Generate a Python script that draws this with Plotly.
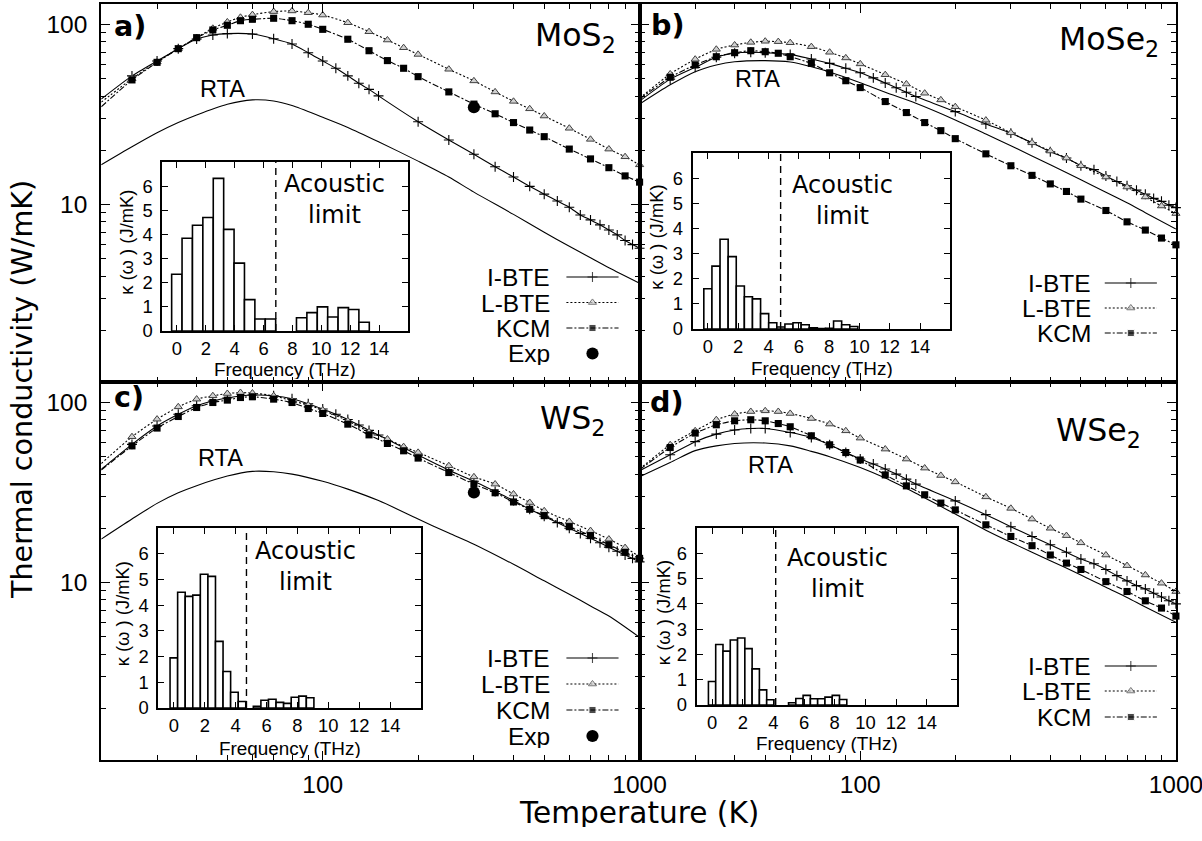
import math
import plotly.graph_objects as go

# reference frame (pixels) used for every position below
W, H = 1202, 841
# figure size actually requested (the page is shown scaled down to 1202x841)
FIG_W, FIG_H = 1232, 851
FS = 1.02  # font / marker size compensation

# ---------------- data ----------------
T_main = [20, 25, 30, 35, 40, 45, 50, 55, 60, 70, 80, 90, 100, 120, 140, 160, 180, 200,
          250, 300, 350, 400, 450, 500, 600, 700, 800, 900, 1000]
T_ibte = [20, 25, 30, 35, 40, 45, 50, 60, 70, 80, 90, 100, 110, 120, 130, 140, 150, 200,
          250, 300, 350, 400, 450, 500, 550, 600, 650, 700, 750, 800, 850, 900, 950, 1000]
T_rta = [20, 25, 30, 35, 40, 50, 60, 70, 80, 100, 120, 150, 200, 250, 300, 400, 500, 600,
         700, 800, 1000]

mos2_ibte = [38.5, 51.8, 62.7, 73.4, 83.0, 87.5, 89.0, 88.5, 83.4, 77.9, 69.7, 62.7, 57.1, 51.8,
             47.1, 43.6, 40.1, 28.8, 22.8, 19.0, 16.2, 14.2, 12.6, 11.4, 10.45, 9.65, 8.74, 8.2,
             7.7, 7.2, 6.77, 6.3, 5.98, 5.7]
mos2_lbte = [37.0, 50.0, 62.0, 73.4, 84.5, 95.2, 103.3, 109.6, 113.4, 118.0, 119.0, 116.3, 112.9,
             102.3, 91.2, 82.0, 74.3, 68.2, 56.4, 48.6, 42.2, 37.4, 34.0, 31.0, 26.5, 23.0, 20.3,
             18.4, 16.6]
mos2_kcm = [34.9, 49.2, 61.6, 73.4, 84.5, 93.2, 99.0, 105.0, 106.9, 108.3, 105.0, 100.3, 94.0,
            82.8, 71.5, 63.0, 57.1, 51.3, 42.2, 36.1, 31.9, 28.5, 25.9, 23.8, 20.3, 17.9, 16.0,
            14.4, 13.3]
mos2_rta = [16.6, 20.9, 25.0, 28.5, 31.4, 36.0, 38.1, 37.6, 35.5, 30.5, 26.8, 22.3, 17.4, 14.2,
            11.7, 8.8, 7.0, 5.85, 5.05, 4.45, 3.65]

mose2_ibte = [37.5, 49.7, 57.8, 65.7, 69.2, 70.1, 69.7, 68.2, 64.3, 60.8, 57.1, 53.9, 50.5, 47.3,
              44.5, 42.0, 39.8, 32.8, 28.0, 24.9, 22.0, 19.6, 18.1, 16.4, 15.6, 14.4, 13.4, 12.7,
              12.0, 11.4, 10.8, 10.4, 9.9, 9.6]
mose2_lbte = [38.9, 53.1, 64.1, 72.8, 76.9, 79.6, 80.7, 80.3, 79.2, 75.3, 70.1, 65.2, 60.4, 52.6,
              46.7, 41.5, 38.1, 34.9, 29.4, 25.0, 22.0, 19.8, 18.1, 16.4, 14.2, 12.5, 11.0, 9.8,
              8.9]
mose2_kcm = [38.5, 50.9, 59.6, 66.2, 69.7, 71.5, 70.6, 69.2, 66.2, 60.8, 53.9, 48.7, 44.6, 37.3,
             32.4, 28.5, 25.7, 23.2, 19.1, 16.4, 14.5, 13.0, 11.8, 10.7, 9.25, 8.0, 7.2, 6.5, 5.96]
mose2_rta = [36.1, 46.2, 54.7, 59.6, 62.1, 63.0, 61.9, 58.3, 54.5, 47.5, 42.0, 36.5, 29.5, 24.6,
             21.2, 16.6, 13.7, 11.7, 10.2, 9.0, 7.3]

ws2_ibte = [42.5, 58.5, 74.0, 86.0, 96.0, 102.0, 106.0, 110.0, 109.0, 105.0, 98.5, 92.0, 86.0,
            80.5, 75.0, 70.0, 66.0, 51.0, 42.0, 36.5, 32.0, 28.5, 25.5, 23.3, 21.5, 20.0, 18.7,
            17.6, 16.6, 15.7, 14.9, 14.2, 13.6, 13.0]
ws2_lbte = [45.8, 64.5, 80.8, 94.6, 104.4, 109.0, 112.2, 113.6, 112.8, 109.0, 102.2, 96.7, 90.7,
            79.1, 68.7, 62.6, 56.8, 52.8, 44.5, 38.6, 35.2, 31.0, 27.8, 25.0, 21.8, 19.4, 17.4,
            15.6, 13.9]
ws2_kcm = [42.1, 57.4, 72.1, 83.6, 93.8, 100.0, 103.1, 106.6, 107.6, 104.4, 100.0, 92.6, 86.9,
           75.8, 66.1, 59.2, 53.9, 49.1, 40.8, 35.2, 31.5, 28.0, 25.5, 23.5, 20.4, 18.2, 16.2,
           14.7, 13.6]
ws2_rta = [17.4, 22.5, 27.5, 31.5, 34.5, 39.0, 41.4, 41.2, 40.0, 36.5, 33.0, 28.5, 22.5, 18.8,
           16.3, 12.6, 10.2, 8.6, 7.4, 6.5, 4.95]

wse2_ibte = [41.7, 51.2, 60.6, 66.7, 70.3, 71.7, 71.7, 68.1, 63.9, 58.2, 52.7, 48.5, 45.5, 42.7,
             40.0, 37.5, 35.2, 28.4, 23.8, 20.4, 18.0, 16.2, 14.7, 13.5, 12.7, 11.8, 10.9, 10.2,
             9.6, 9.2, 8.7, 8.3, 7.9, 7.6]
wse2_lbte = [42.7, 58.2, 69.6, 80.2, 86.2, 89.1, 89.9, 89.1, 86.9, 81.5, 75.9, 69.6, 63.4, 55.1,
             48.5, 43.2, 39.3, 36.2, 29.9, 25.8, 22.5, 20.0, 18.2, 16.6, 14.2, 12.4, 11.0, 9.9,
             8.9]
wse2_kcm = [42.3, 56.2, 67.6, 75.2, 79.1, 80.2, 79.1, 76.4, 73.3, 65.3, 58.2, 52.7, 47.9, 39.6,
            34.4, 30.7, 27.6, 25.3, 20.9, 18.0, 16.0, 14.2, 12.8, 11.8, 10.1, 8.9, 7.9, 7.2, 6.5]
wse2_rta = [38.6, 46.4, 54.0, 57.4, 59.2, 59.5, 57.4, 53.5, 50.0, 43.5, 38.0, 31.3, 24.0, 19.5,
            16.7, 13.2, 11.0, 9.4, 8.25, 7.3, 6.0]

exp_T = [300]
mos2_exp = [34.7]
ws2_exp = [31.6]

# inset histograms: bin centres (THz) and kappa(omega) (J/mK)
mos2_freq = [0.0, 0.72, 1.44, 2.16, 2.88, 3.60, 4.32, 5.04, 5.76, 6.48,
             8.64, 9.36, 10.08, 10.80, 11.52, 12.24, 12.96]
mos2_hist = [2.35, 3.84, 4.38, 4.70, 6.32, 4.21, 2.81, 1.30, 0.50, 0.50,
             0.55, 0.76, 1.00, 0.58, 0.97, 0.89, 0.36]
mose2_freq = [0.0, 0.535, 1.07, 1.605, 2.14, 2.675, 3.21, 3.745, 4.28, 4.815, 5.35, 5.885,
              6.42, 6.955, 7.49, 8.025, 8.56, 9.095, 9.63]
mose2_hist = [1.6, 2.5, 3.57, 2.88, 1.71, 1.28, 1.2, 0.61, 0.25, 0.08, 0.2, 0.25,
              0.17, 0.05, 0.02, 0.03, 0.32, 0.17, 0.10]
ws2_freq = [0.0, 0.49, 0.98, 1.47, 1.96, 2.45, 2.94, 3.43, 3.92, 4.41,
            5.39, 5.88, 6.37, 6.86, 7.35, 7.84, 8.33, 8.82]
ws2_hist = [1.95, 4.5, 4.34, 4.39, 5.2, 5.12, 2.59, 1.42, 0.61, 0.25,
            0.07, 0.30, 0.34, 0.22, 0.18, 0.42, 0.46, 0.40]
wse2_freq = [0.0, 0.475, 0.95, 1.425, 1.9, 2.375, 2.85, 3.325, 3.8,
             5.225, 5.7, 6.175, 6.65, 7.125, 7.6, 8.075, 8.55]
wse2_hist = [0.93, 2.39, 2.13, 2.57, 2.65, 2.23, 1.43, 0.60, 0.21,
             0.09, 0.26, 0.38, 0.25, 0.25, 0.31, 0.38, 0.22]
bin_width = [0.72, 0.535, 0.49, 0.475]
acoustic_limit = [6.85, 4.8, 4.7, 4.15]

materials = ["MoS<sub>2</sub>", "MoSe<sub>2</sub>", "WS<sub>2</sub>", "WSe<sub>2</sub>"]
panel_letters = ["a)", "b)", "c)", "d)"]
legend_names = ["I-BTE", "L-BTE", "KCM", "Exp"]

# ---------------- layout geometry (reference pixels) ----------------
panels_px = [(101, 638, 4, 382), (638, 1173, 4, 382), (101, 638, 382, 760), (638, 1173, 382, 760)]
insets_px = [(162, 407, 162, 331), (691, 948, 153, 329), (158, 420, 528, 708), (695, 955, 528, 705)]


def xd(x0, x1):
    return [x0 / W, x1 / W]


def yd(y0, y1):
    return [1 - y1 / H, 1 - y0 / H]


def px(x):
    return x / W


def py(y):
    return 1 - y / H


def f(s):
    return round(s * FS, 1)


TICKF = "Liberation Sans"
SANS = "DejaVu Sans"

fig = go.Figure()
layout = dict(width=FIG_W, height=FIG_H, margin=dict(l=0, r=0, t=0, b=0), autosize=False,
              paper_bgcolor="white", plot_bgcolor="rgba(0,0,0,0)",
              showlegend=False, barmode="overlay")

xmin_minor = [20, 30, 40, 50, 60, 70, 80, 90, 200, 300, 400, 500, 600, 700, 800, 900]
ymin_minor = [2, 3, 4, 5, 6, 7, 8, 9, 20, 30, 40, 50, 60, 70, 80, 90]

data_sets = [
    (mos2_ibte, mos2_lbte, mos2_kcm, mos2_rta, mos2_exp),
    (mose2_ibte, mose2_lbte, mose2_kcm, mose2_rta, None),
    (ws2_ibte, ws2_lbte, ws2_kcm, ws2_rta, ws2_exp),
    (wse2_ibte, wse2_lbte, wse2_kcm, wse2_rta, None),
]
hists = [(mos2_freq, mos2_hist), (mose2_freq, mose2_hist), (ws2_freq, ws2_hist), (wse2_freq, wse2_hist)]

LBTE_DASH = "2px,2px"
KCM_DASH = "6px,2px,2px,2px"
IB_MK = dict(symbol="cross-thin", size=f(7), line=dict(color="black", width=1.1))
LB_MK = dict(symbol="triangle-up", size=f(7), color="#d0d0d0", line=dict(color="#404040", width=1))
KC_MK = dict(symbol="square", size=f(7), color="black")

for i in range(4):
    n = i + 1
    xk = "xaxis" if n == 1 else f"xaxis{n}"
    yk = "yaxis" if n == 1 else f"yaxis{n}"
    xr = "x" if n == 1 else f"x{n}"
    yr = "y" if n == 1 else f"y{n}"
    x0, x1, y0, y1 = panels_px[i]
    layout[xk] = dict(type="log", domain=xd(x0, x1), range=[math.log10(20), 3], anchor=yr,
                      showline=True, linecolor="black", linewidth=2, mirror="ticks",
                      ticks="inside", ticklen=9, tickwidth=1.3, tickcolor="black",
                      tickmode="array", tickvals=[100, 1000], ticktext=["100", "1000"],
                      showticklabels=(i >= 2), ticklabelstandoff=2,
                      tickfont=dict(family=TICKF, size=f(24), color="black"),
                      minor=dict(ticks="inside", ticklen=5, tickwidth=1.1, tickcolor="black",
                                 tickmode="array", tickvals=xmin_minor),
                      showgrid=False, zeroline=False)
    layout[yk] = dict(type="log", domain=yd(y0, y1), range=[math.log10(1.03), math.log10(130)],
                      anchor=xr, showline=True, linecolor="black", linewidth=2, mirror="ticks",
                      ticks="inside", ticklen=9, tickwidth=1.3, tickcolor="black",
                      tickmode="array", tickvals=[10, 100], ticktext=["10", "100"],
                      showticklabels=(i % 2 == 0), ticklabelstandoff=7,
                      tickfont=dict(family=TICKF, size=f(24), color="black"),
                      minor=dict(ticks="inside", ticklen=5, tickwidth=1.1, tickcolor="black",
                                 tickmode="array", tickvals=ymin_minor),
                      showgrid=False, zeroline=False)

    ibte, lbte, kcm, rta, exp = data_sets[i]
    fig.add_trace(go.Scatter(x=T_rta, y=rta, mode="lines", xaxis=xr, yaxis=yr,
                             line=dict(color="black", width=1.1, shape="spline", smoothing=0.8)))
    fig.add_trace(go.Scatter(x=T_ibte, y=ibte, mode="lines+markers", xaxis=xr, yaxis=yr,
                             cliponaxis=False,
                             line=dict(color="black", width=1.1, shape="spline", smoothing=0.6),
                             marker=IB_MK))
    fig.add_trace(go.Scatter(x=T_main, y=lbte, mode="lines+markers", xaxis=xr, yaxis=yr,
                             cliponaxis=False,
                             line=dict(color="black", width=1.1, dash=LBTE_DASH, shape="spline",
                                       smoothing=0.6),
                             marker=LB_MK))
    fig.add_trace(go.Scatter(x=T_main, y=kcm, mode="lines+markers", xaxis=xr, yaxis=yr,
                             cliponaxis=False,
                             line=dict(color="black", width=1.1, dash=KCM_DASH, shape="spline",
                                       smoothing=0.6),
                             marker=KC_MK))
    if exp is not None:
        fig.add_trace(go.Scatter(x=exp_T, y=exp, mode="markers", xaxis=xr, yaxis=yr,
                                 marker=dict(symbol="circle", size=f(12), color="black")))

    # inset
    m = n + 4
    ixk, iyk, ixr, iyr = f"xaxis{m}", f"yaxis{m}", f"x{m}", f"y{m}"
    a0, a1, b0, b1 = insets_px[i]
    layout[ixk] = dict(domain=xd(a0, a1), range=[-1, 16], anchor=iyr,
                       showline=True, linecolor="black", linewidth=2, mirror="ticks",
                       ticks="inside", ticklen=6, tickwidth=1.2, tickcolor="black",
                       tickmode="array", tickvals=[0, 2, 4, 6, 8, 10, 12, 14],
                       ticklabelstandoff=0,
                       tickfont=dict(family=TICKF, size=f(18), color="black"),
                       showgrid=False, zeroline=False)
    layout[iyk] = dict(domain=yd(b0, b1), range=[0, 7], anchor=ixr,
                       showline=True, linecolor="black", linewidth=2, mirror="ticks",
                       ticks="inside", ticklen=6, tickwidth=1.2, tickcolor="black",
                       tickmode="array", tickvals=[0, 1, 2, 3, 4, 5, 6],
                       ticklabelstandoff=4,
                       tickfont=dict(family=TICKF, size=f(18), color="black"),
                       showgrid=False, zeroline=False)
    fq, hv = hists[i]
    fig.add_trace(go.Bar(x=fq, y=hv, width=bin_width[i], xaxis=ixr, yaxis=iyr,
                         marker=dict(color="white", line=dict(color="black", width=1.6))))

layout["xaxis9"] = dict(domain=[0, 1], range=[0, W], visible=False, anchor="y9", fixedrange=True)
layout["yaxis9"] = dict(domain=[0, 1], range=[H, 0], visible=False, anchor="x9", fixedrange=True)

shapes = []
annotations = []
for i in range(4):
    m = i + 5
    shapes.append(dict(type="line", xref=f"x{m}", yref=f"y{m}", x0=acoustic_limit[i],
                       x1=acoustic_limit[i], y0=0, y1=7,
                       line=dict(color="black", width=1.4, dash="7px,5px")))

# inset axis titles (reference pixels)
inset_xtitle_y = [369, 368, 748, 743]
inset_ytitle_x = [126, 655, 122, 662]
for i in range(4):
    a0, a1, b0, b1 = insets_px[i]
    annotations.append(dict(xref="paper", yref="paper", x=px((a0 + a1) / 2), y=py(inset_xtitle_y[i]),
                            text="Frequency (THz)", showarrow=False, xanchor="center",
                            yanchor="middle", height=20,
                            font=dict(family=TICKF, size=f(18.5), color="black")))
    annotations.append(dict(xref="paper", yref="paper", x=px(inset_ytitle_x[i]),
                            y=py((b0 + b1) / 2 - 4), textangle=-90,
                            text="κ (ω ) (J/mK)", showarrow=False, xanchor="center",
                            yanchor="middle", font=dict(family=TICKF, size=f(18), color="black")))

acoustic_pos = [(10.9, 5.45), (8.9, 5.1), (8.5, 5.5), (8.2, 5.2)]
for i in range(4):
    m = i + 5
    annotations.append(dict(xref=f"x{m}", yref=f"y{m}", x=acoustic_pos[i][0], y=acoustic_pos[i][1],
                            text="Acoustic<br>limit", showarrow=False, align="center",
                            font=dict(family=SANS, size=f(23.5), color="black")))

letter_pos = [(130, 26), (666, 25), (129, 397), (665, 402)]
mat_pos = [(574, 38), (1106, 41), (571, 420), (1096, 432)]
rta_pos = [(222, 89), (756, 79), (220, 458), (769, 465)]
for i in range(4):
    annotations.append(dict(xref="paper", yref="paper", x=px(letter_pos[i][0]), y=py(letter_pos[i][1]),
                            text=f"<b>{panel_letters[i]}</b>", showarrow=False,
                            xanchor="center", yanchor="middle",
                            font=dict(family=SANS, size=f(28), color="black")))
    annotations.append(dict(xref="paper", yref="paper", x=px(mat_pos[i][0]), y=py(mat_pos[i][1]),
                            text=materials[i], showarrow=False, xanchor="center", yanchor="middle",
                            font=dict(family=SANS, size=f(31), color="black")))
    annotations.append(dict(xref="paper", yref="paper", x=px(rta_pos[i][0]), y=py(rta_pos[i][1]),
                            text="RTA", showarrow=False, xanchor="center", yanchor="middle",
                            font=dict(family=TICKF, size=f(23), color="black")))

legend_rows = [[277, 302.5, 328, 353.5], [283, 308, 333], [658, 684, 710, 736], [666, 691, 717]]
legend_text_x = [551, 1090, 551, 1090]
legend_line_x = [(565, 617), (1102, 1154), (565, 617), (1102, 1154)]
for i in range(4):
    rows = legend_rows[i]
    lx0, lx1 = legend_line_x[i]
    lm = (lx0 + lx1) / 2
    for k, yy in enumerate(rows):
        annotations.append(dict(xref="paper", yref="paper", x=px(legend_text_x[i]), y=py(yy),
                                text=legend_names[k], showarrow=False, xanchor="right",
                                yanchor="middle", height=24,
                                font=dict(family=TICKF, size=f(24), color="black")))
    fig.add_trace(go.Scatter(x=[lx0, lm, lx1], y=[rows[0]] * 3, xaxis="x9", yaxis="y9",
                             mode="lines+markers", cliponaxis=False,
                             line=dict(color="black", width=1.1),
                             marker=dict(IB_MK, size=[0, f(7), 0])))
    fig.add_trace(go.Scatter(x=[lx0, lm, lx1], y=[rows[1]] * 3, xaxis="x9", yaxis="y9",
                             mode="lines+markers", cliponaxis=False,
                             line=dict(color="black", width=1.1, dash=LBTE_DASH),
                             marker=dict(LB_MK, size=[0, f(7), 0])))
    fig.add_trace(go.Scatter(x=[lx0, lm, lx1], y=[rows[2]] * 3, xaxis="x9", yaxis="y9",
                             mode="lines+markers", cliponaxis=False,
                             line=dict(color="black", width=1.1, dash=KCM_DASH),
                             marker=dict(KC_MK, size=[0, f(7), 0])))
    if len(rows) > 3:
        fig.add_trace(go.Scatter(x=[lm], y=[rows[3]], xaxis="x9", yaxis="y9", mode="markers",
                                 cliponaxis=False,
                                 marker=dict(symbol="circle", size=f(12), color="black")))

annotations.append(dict(xref="paper", yref="paper", x=px(22), y=py(390), textangle=-90,
                        text="Thermal conductivity (W/mK)", showarrow=False,
                        xanchor="center", yanchor="middle",
                        font=dict(family=SANS, size=f(28), color="black")))
annotations.append(dict(xref="paper", yref="paper", x=px(637), y=py(813),
                        text="Temperature (K)", showarrow=False,
                        xanchor="center", yanchor="middle", height=28,
                        font=dict(family=SANS, size=f(29), color="black")))

layout["shapes"] = shapes
layout["annotations"] = annotations
fig.update_layout(**layout)
fig.write_html("out.html")
